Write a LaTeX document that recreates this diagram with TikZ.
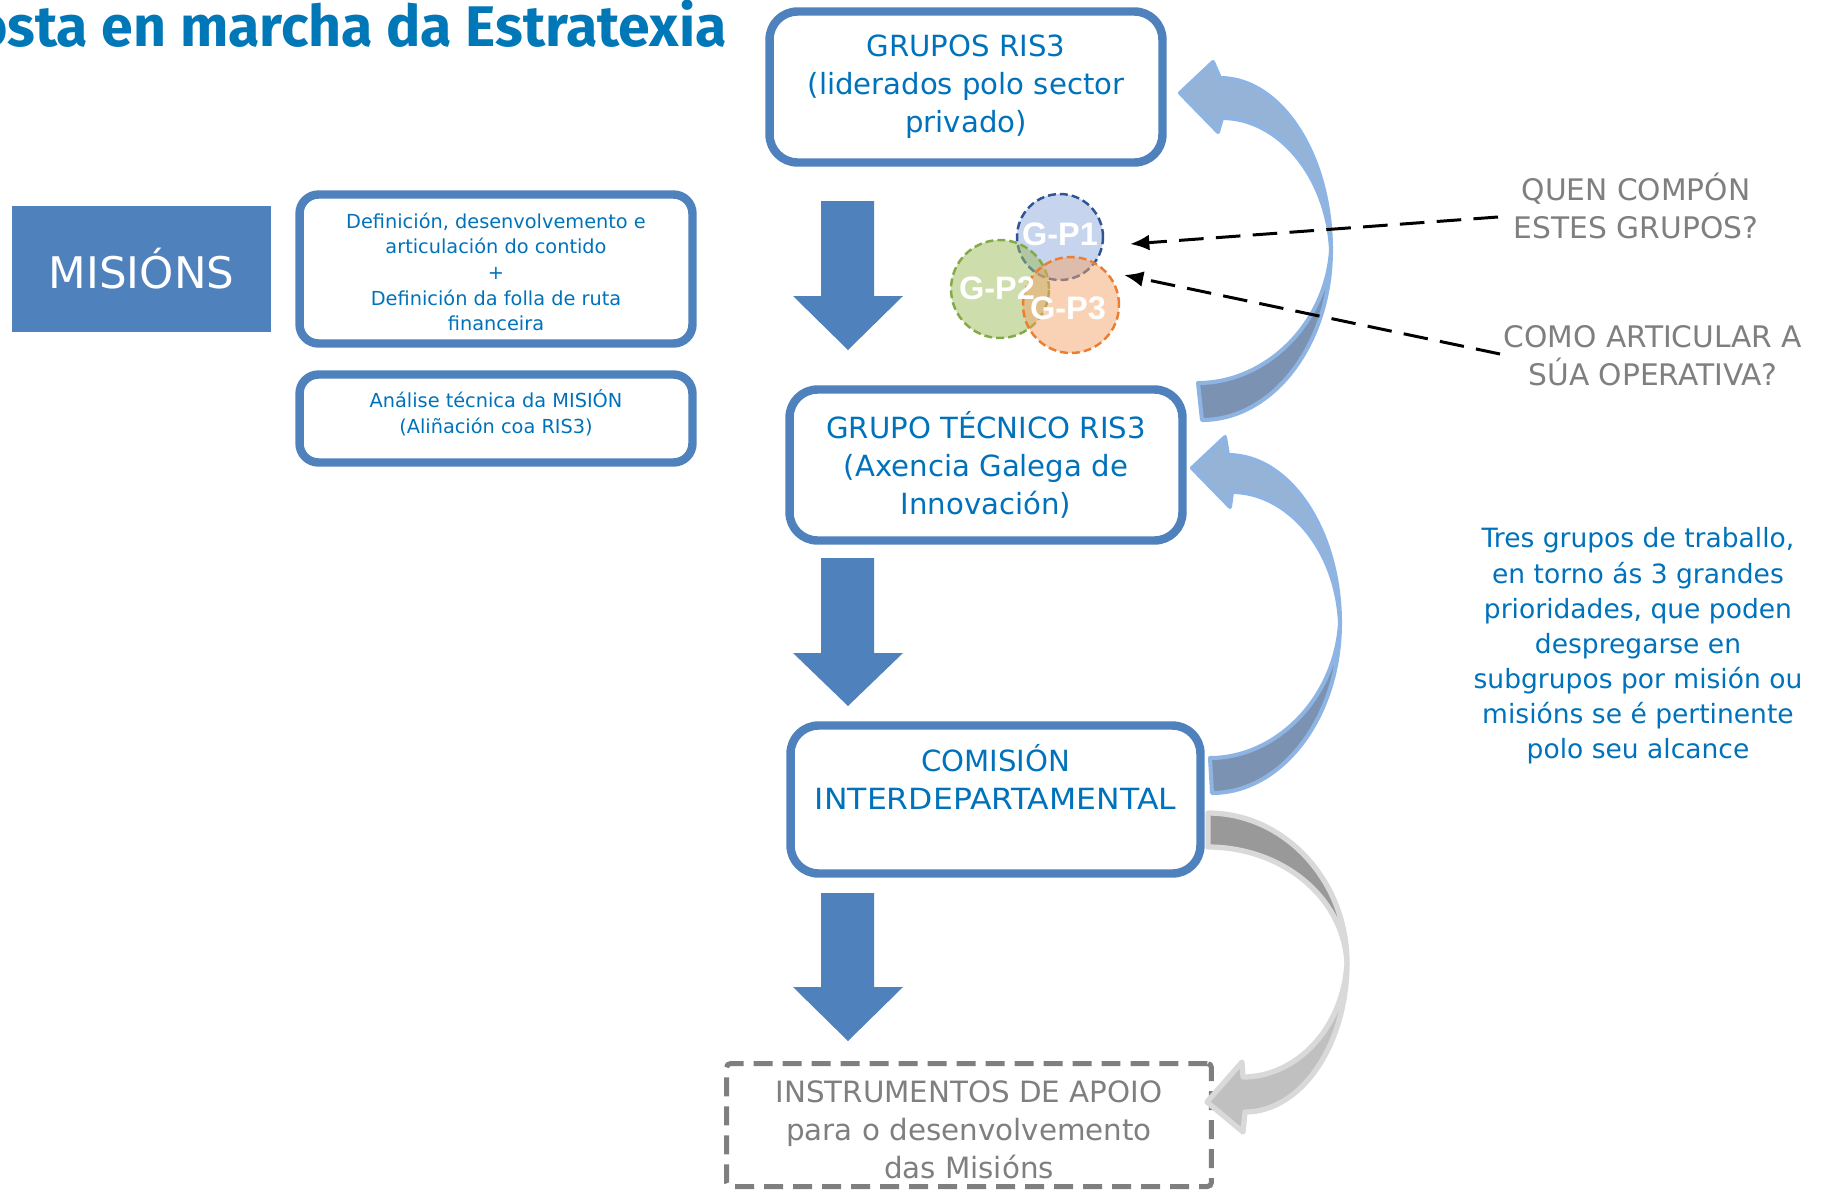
\documentclass[tikz,border=0pt]{standalone}
\usepackage{fontspec}
\usepackage{graphicx}
\setmainfont{DejaVu Sans}
\newfontfamily\titlefont{Fira Sans}
\newfontfamily\circfont{Liberation Sans}
\usetikzlibrary{arrows.meta}
\definecolor{boxblue}{RGB}{79,129,189}
\definecolor{txtblue}{RGB}{0,114,187}
\definecolor{titleblue}{RGB}{0,119,182}
\definecolor{graytxt}{RGB}{127,127,127}
\definecolor{arrlight}{RGB}{149,179,215}
\definecolor{arrdark}{RGB}{124,146,178}
\definecolor{arredge}{RGB}{142,180,227}
\definecolor{gdark}{RGB}{153,153,153}
\definecolor{glight}{RGB}{192,192,192}
\definecolor{gedge}{RGB}{217,217,217}
\definecolor{pone}{RGB}{143,170,220}
\definecolor{poneedge}{RGB}{47,85,151}
\definecolor{ptwo}{RGB}{155,187,89}
\definecolor{ptwoedge}{RGB}{130,170,70}
\definecolor{pthree}{RGB}{244,164,106}
\definecolor{pthreeedge}{RGB}{237,125,49}
\tikzset{
  flowbox/.style={draw=boxblue, line width=4.8pt, rounded corners=0.56cm, text=txtblue,
    align=center, inner sep=0pt, font=\fontsize{16.6}{21.6}\selectfont},
  smallbox/.style={draw=boxblue, line width=4.8pt, rounded corners=0.38cm, inner sep=0pt},
  smalltext/.style={text=txtblue, align=center, inner sep=0pt, font=\fontsize{11}{14.6}\selectfont},
  dashbox/.style={draw=graytxt, line width=2.85pt, dash pattern=on 10.8pt off 5.7pt,
    rounded corners=0.08cm, inner sep=0pt},
  dashtext/.style={text=graytxt, align=center, inner sep=0pt, font=\fontsize{16.7}{21.8}\selectfont},
  blockarrow/.style={fill=boxblue},
  curvlight/.style={fill=arrlight, draw=arredge, line width=2.3pt, line join=round},
  curvdark/.style={fill=arrdark, draw=arredge, line width=2.3pt, line join=round},
  grylight/.style={fill=glight, draw=gedge, line width=3pt, line join=round},
  grydark/.style={fill=gdark, draw=gedge, line width=3pt, line join=round},
  gcircle/.style={circle, inner sep=0pt, line width=1.4pt, dash pattern=on 4.5pt off 2.3pt,
    fill opacity=0.5},
  glabel/.style={text=white, inner sep=0pt, font=\circfont\bfseries\fontsize{18.5}{20}\selectfont},
  questxt/.style={text=graytxt, align=center, inner sep=0pt, font=\fontsize{16.9}{21.6}\selectfont},
  darr/.style={draw=black, line width=1.7pt, dash pattern=on 14pt off 7pt,
    -{Latex[length=11pt,width=9pt]}}
}
\begin{document}
\begin{tikzpicture}[x=0.02cm, y=-0.02cm]
\useasboundingbox (0,0) rectangle (1823,1191);

% title
\node[anchor=base east, inner sep=0pt, text=titleblue,
  font=\titlefont\bfseries\fontsize{32.6}{38}\selectfont] (title) at (727,46)
  {Posta en marcha da Estratexia};

% left side
\node[fill=boxblue, minimum width=5.18cm, minimum height=2.52cm, inner sep=0pt, text=white,
  font=\fontsize{24.8}{28}\selectfont] (mis) at (141.5,269) {MISIÓNS};
\node[smallbox, minimum width=7.86cm, minimum height=2.98cm] (def) at (496,269) {};
\node[smalltext] (deft) at (496,272)
  {Definición, desenvolvemento e\\articulación do contido\\+\\Definición da folla de ruta\\financeira};
\node[smallbox, minimum width=7.86cm, minimum height=1.76cm] (ana) at (496,418.5) {};
\node[smalltext] (anat) at (496,413)
  {Análise técnica da MISIÓN\\(Aliñación coa RIS3)};

% main column
\node[flowbox, minimum width=7.86cm, minimum height=3.02cm] (gr) at (966,87)
  {GRUPOS RIS3\\(liderados polo sector\\privado)};
\node[flowbox, minimum width=7.86cm, minimum height=3.02cm] (gt) at (986,465)
  {GRUPO TÉCNICO RIS3\\(Axencia Galega de\\Innovación)};
\node[flowbox, minimum width=8.2cm, minimum height=2.96cm] (com) at (995.5,799.5) {};
\node[text=txtblue, align=center, inner sep=0pt, font=\fontsize{16.6}{21.6}\selectfont] (comt) at (995.5,777)
  {COMISIÓN\\\scalebox{1.08}[1]{INTERDEPARTAMENTAL}};
\node[dashbox, minimum width=9.7cm, minimum height=2.46cm] (ins) at (969,1125) {};
\node[dashtext] (inst) at (969,1130)
  {INSTRUMENTOS DE APOIO\\para o desenvolvemento\\das Misións};

% block arrows
\path[blockarrow] (821,201) -- (874,201) -- (874,296) -- (903,296) -- (848,350) -- (793,296) -- (821,296) -- cycle;
\path[blockarrow] (821,558) -- (874,558) -- (874,653) -- (903,653) -- (848,706) -- (793,653) -- (821,653) -- cycle;
\path[blockarrow] (821,893) -- (874,893) -- (874,987) -- (903,987) -- (848,1041) -- (793,987) -- (821,987) -- cycle;

% curved arrow A (gt -> gr)
\path[curvdark] (1331,250) .. controls (1331,344) and (1273,420) .. (1202,420) -- (1198,383)
  .. controls (1265,383) and (1326,325) .. (1331,250) -- cycle;
\path[curvlight] (1180,93) -- (1213,62) -- (1220,78) .. controls (1281,78) and (1331,155) .. (1331,250)
  .. controls (1327,175) and (1278,118) .. (1222,118) -- (1218,132) -- cycle;

% curved arrow B (com -> gt)
\path[curvdark] (1340,623) .. controls (1340,717) and (1282,793) .. (1212,793) -- (1210,758)
  .. controls (1275,758) and (1335,700) .. (1340,623) -- cycle;
\path[curvlight] (1192,468) -- (1225,437) -- (1228,455) .. controls (1290,455) and (1340,531) .. (1340,623)
  .. controls (1336,545) and (1285,492) .. (1232,492) -- (1230,507) -- cycle;

% curved arrow C (com -> ins)
\path[grydark] (1208,813) .. controls (1284,813) and (1347,880) .. (1347,963)
  .. controls (1343,895) and (1280,847) .. (1208,847) -- cycle;
\path[grylight] (1347,963) .. controls (1347,1045) and (1301,1112) .. (1245,1112) -- (1243,1132)
  -- (1207,1102) -- (1242,1062) -- (1243,1077) .. controls (1295,1077) and (1343,1030) .. (1347,963) -- cycle;

% priority circles
\node[gcircle, minimum size=1.72cm, draw=poneedge, fill=pone] (p1) at (1060,237) {};
\node[gcircle, minimum size=1.96cm, draw=ptwoedge, fill=ptwo] (p2) at (1000,289) {};
\node[gcircle, minimum size=1.92cm, draw=pthreeedge, fill=pthree] (p3) at (1071,305) {};
\node[glabel] (p1t) at (1060,234) {G-P1};
\node[glabel] (p2t) at (997,288) {G-P2};
\node[glabel] (p3t) at (1068,308) {G-P3};

% questions
\node[questxt] (q1) at (1636,206) {QUEN COMPÓN\\ESTES GRUPOS?};
\node[questxt] (q2) at (1653,356) {COMO ARTICULAR A\\SÚA OPERATIVA?};
\coordinate (q1s) at (1498,217);
\coordinate (q2s) at (1500,354);
\coordinate (t1) at (1130,244);
\coordinate (t2) at (1124,275);
\draw[darr] (q1s) -- (t1);
\draw[darr] (q2s) -- (t2);

% note
\node[text=txtblue, align=center, inner sep=0pt, font=\fontsize{15.1}{20}\selectfont] (tres) at (1638,646)
  {Tres grupos de traballo,\\en torno ás 3 grandes\\prioridades, que poden\\despregarse en\\subgrupos por misión ou\\misións se é pertinente\\polo seu alcance};
\end{tikzpicture}
\end{document}
